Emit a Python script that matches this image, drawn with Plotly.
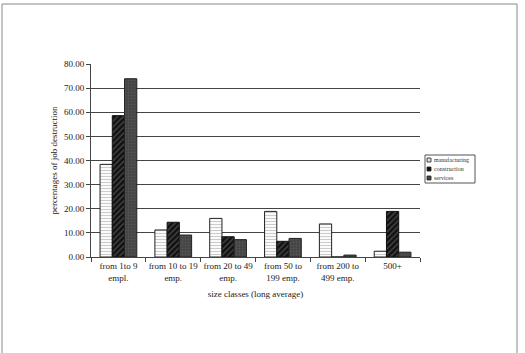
import plotly.graph_objects as go

categories = ["from 1to 9<br>empl.", "from 10 to 19<br>emp.", "from 20 to 49<br>emp.",
              "from 50 to<br>199 emp.", "from 200 to<br>499 emp.", "500+"]
series_names = ["manufacturing", "construction", "services"]
manufacturing = [38.4, 11.2, 16.0, 18.9, 13.7, 2.4]
construction = [58.6, 14.4, 8.4, 6.5, 0.0, 18.9]
services = [73.9, 9.1, 7.2, 7.7, 0.8, 2.0]

FONT = "Liberation Serif"
L, R, T, B = 91, 105, 64, 96
W, H = 525, 353
pw, ph = W - L - R, H - T - B

styles = [
    dict(color="white", line=dict(color="#222", width=1),
         pattern=dict(shape="-", fgcolor="#999", bgcolor="white", size=3, solidity=0.4)),
    dict(color="#111", line=dict(color="#111", width=1),
         pattern=dict(shape="/", fgcolor="#888", bgcolor="#111", size=4, solidity=0.3)),
    dict(color="#444", line=dict(color="#222", width=1),
         pattern=dict(shape=".", fgcolor="#666", bgcolor="#444", size=3, solidity=0.3)),
]
swatch = ["#ddd", "#111", "#444"]

fig = go.Figure()
for name, vals, st in zip(series_names, [manufacturing, construction, services], styles):
    fig.add_trace(go.Bar(name=name, x=categories, y=vals, marker=st))

def px_x(p):
    return (p - L) / pw

def px_y(p):
    return (H - B - p) / ph

shapes = [dict(type="rect", xref="paper", yref="paper",
               x0=px_x(2), x1=px_x(517), y0=px_y(370), y1=px_y(4),
               line=dict(color="#888", width=1)),
          dict(type="rect", xref="paper", yref="paper",
               x0=px_x(425), x1=px_x(475), y0=px_y(183), y1=px_y(155),
               line=dict(color="#555", width=1), fillcolor="white")]
annotations = []
for i, name in enumerate(series_names):
    yc = 160 + i * 9
    shapes.append(dict(type="rect", xref="paper", yref="paper",
                       x0=px_x(427), x1=px_x(431), y0=px_y(yc + 2), y1=px_y(yc - 2),
                       line=dict(color="#222", width=0.8), fillcolor=swatch[i]))
    annotations.append(dict(text=name, xref="paper", yref="paper", x=px_x(432), y=px_y(yc),
                            xanchor="left", yanchor="middle", showarrow=False,
                            font=dict(size=6, family=FONT, color="#333")))

fig.update_layout(
    width=W, height=H,
    margin=dict(l=L, r=R, t=T, b=B),
    paper_bgcolor="white", plot_bgcolor="white",
    barmode="group", bargap=0.33, bargroupgap=0,
    font=dict(family=FONT, size=9, color="#222"),
    showlegend=False,
    xaxis=dict(showline=True, linecolor="#444", linewidth=1, ticks="outside",
               tickson="boundaries", ticklen=4, tickcolor="#444", tickangle=0,
               tickfont=dict(size=9, family=FONT),
               title=dict(text="size classes (long average)", font=dict(size=9, family=FONT), standoff=9)),
    yaxis=dict(range=[0, 80], dtick=10, tickformat=".2f", showline=True, linecolor="#444",
               ticks="outside", ticklen=4, tickcolor="#444", showgrid=True, gridcolor="#444",
               gridwidth=1, zeroline=False,
               tickfont=dict(size=9, family=FONT),
               title=dict(text="percentages of job destruction", font=dict(size=9, family=FONT), standoff=4)),
    shapes=shapes,
    annotations=annotations,
)

fig.write_html("out.html")
